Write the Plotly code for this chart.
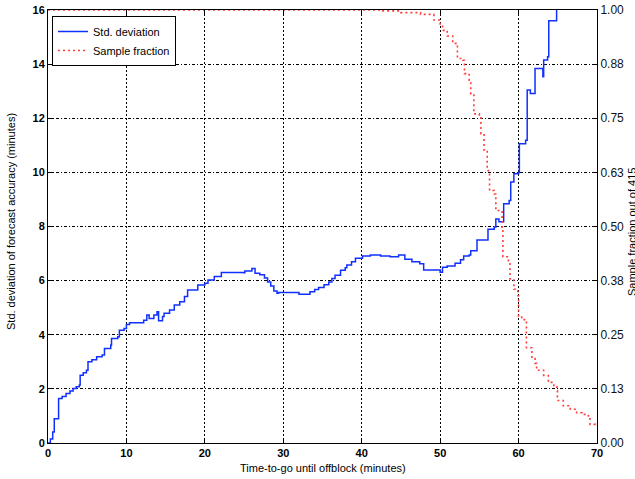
import plotly.graph_objects as go

# Std. deviation of forecast accuracy (minutes) vs time-to-go (minutes)
time_std = [0.0, 0.3, 0.6, 0.8, 1.35, 1.8, 2.3, 2.8, 3.2, 3.6, 4.0, 4.1, 4.5, 4.9, 5.1, 5.6,
            6.2, 6.9, 7.2, 8.0, 8.1, 8.9, 9.1, 9.7, 10.0, 10.4, 11.8, 12.2, 12.6, 12.9, 13.5,
            13.9, 14.1, 14.6, 14.8, 15.5, 16.1, 16.8, 17.4, 17.8, 18.5, 19.1, 20.0, 20.4, 21.2,
            22.1, 24.9, 25.1, 26.0, 26.4, 27.0, 27.6, 28.0, 28.4, 28.8, 29.2, 29.4, 31.5, 32.0,
            32.9, 33.4, 34.0, 34.5, 35.2, 35.8, 36.2, 36.6, 37.3, 37.9, 38.1, 38.7, 39.2, 40.1,
            41.1, 42.4, 43.6, 44.7, 45.5, 46.4, 47.4, 47.9, 49.6, 50.0, 50.3, 50.9, 51.9, 52.6,
            53.0, 53.7, 53.9, 54.7, 56.0, 56.1, 56.9, 57.1, 57.5, 58.1, 58.8, 59.0, 59.4, 60.0,
            60.1, 60.9, 61.1, 61.5, 62.1, 62.9, 63.1, 63.2, 63.7, 63.85, 64.85, 65.3]
std_dev = [0.0, 0.15, 0.41, 0.9, 1.64, 1.72, 1.83, 1.92, 2.01, 2.08, 2.14, 2.5, 2.6, 2.69, 3.0, 3.08,
           3.19, 3.25, 3.49, 3.62, 3.86, 3.93, 4.17, 4.23, 4.38, 4.44, 4.44, 4.54, 4.73, 4.6, 4.73,
           4.85, 4.52, 4.67, 4.79, 4.91, 5.1, 5.22, 5.41, 5.65, 5.65, 5.84, 5.9, 6.02, 6.15,
           6.3, 6.29, 6.36, 6.45, 6.27, 6.22, 6.1, 5.95, 5.8, 5.62, 5.53, 5.56, 5.56, 5.5,
           5.5, 5.59, 5.67, 5.75, 5.85, 5.95, 6.08, 6.2, 6.38, 6.48, 6.58, 6.7, 6.83, 6.91,
           6.95, 6.91, 6.88, 6.95, 6.79, 6.7, 6.62, 6.39, 6.39, 6.31, 6.49, 6.54, 6.64, 6.77,
           6.91, 6.95, 7.1, 7.5, 7.5, 7.9, 7.98, 8.28, 8.18, 8.84, 8.96, 9.64, 9.95, 10.0,
           11.06, 11.19, 13.04, 12.91, 13.84, 13.84, 13.53, 14.15, 14.27, 15.6, 16.5, 16.5]

# Sample fraction (out of 415) vs time-to-go (minutes)
time_frac = [0.0, 42.4, 45.0, 47.5, 49.2, 50.0, 50.3, 50.9, 51.6, 52.2, 52.9, 53.1, 53.7, 53.9,
             54.3, 55.0, 55.2, 55.6, 56.0, 56.3, 56.9, 57.1, 57.9, 58.0, 58.7, 58.9, 59.4, 59.9,
             60.0, 60.4, 60.9, 61.0, 61.7, 62.1, 62.3, 63.2, 63.8, 64.5, 64.9, 64.95, 65.7, 66.6,
             67.4, 68.1, 68.9, 69.1, 69.8, 70.0]
sample_frac = [1.0, 0.998, 0.994, 0.99, 0.977, 0.965, 0.953, 0.94, 0.923, 0.888, 0.884, 0.853, 0.838, 0.806,
               0.76, 0.753, 0.714, 0.676, 0.629, 0.583, 0.575, 0.537, 0.49, 0.43, 0.418, 0.379, 0.355, 0.34,
               0.293, 0.285, 0.281, 0.22, 0.195, 0.184, 0.168, 0.156, 0.14, 0.129, 0.121, 0.098, 0.086, 0.078,
               0.07, 0.066, 0.059, 0.043, 0.039, 0.039]

x_ticks = [0, 10, 20, 30, 40, 50, 60, 70]
left_ticks = [0, 2, 4, 6, 8, 10, 12, 14, 16]
right_tickvals = [0, 0.125, 0.25, 0.375, 0.5, 0.625, 0.75, 0.875, 1.0]
right_ticktext = ["0.00", "0.13", "0.25", "0.38", "0.50", "0.63", "0.75", "0.88", "1.00"]

x_title = "Time-to-go until offblock (minutes)"
left_title = "Std. deviation of forecast accuracy (minutes)"
right_title = "Sample fraction out of 415"

FONT = "Liberation Sans, Arial, Helvetica, sans-serif"
W, H = 635, 479
L, R, T, B = 48, 38, 10, 36
PW, PH = W - L - R, H - T - B

fig = go.Figure()
fig.add_trace(go.Scatter(
    x=time_std, y=std_dev, mode="lines", name="Std. deviation",
    line=dict(color="#1030ff", width=1.5, shape="hv"),
))
fig.add_trace(go.Scatter(
    x=time_frac, y=sample_frac, mode="lines", name="Sample fraction", yaxis="y2",
    line=dict(color="rgb(255,60,60)", width=1.6, dash="2px,3px", shape="hv"),
))

axis_common = dict(
    showline=True, linecolor="black", linewidth=1,
    ticks="inside", ticklen=5, tickcolor="black",
    zeroline=False, automargin=False,
)
bold_ticks = dict(size=11, color="black", weight="bold")
plain_ticks = dict(size=12, color="#111111")

def px_x(px):
    return (px - L) / PW

def px_y(py):
    return (H - B - py) / PH

fig.update_layout(
    width=W, height=H,
    margin=dict(l=L, r=R, t=T, b=B),
    paper_bgcolor="white", plot_bgcolor="white",
    font=dict(family=FONT, size=12, color="black"),
    showlegend=True,
    legend=dict(
        x=px_x(52), y=px_y(16), xanchor="left", yanchor="top",
        bgcolor="white", bordercolor="black", borderwidth=1,
        font=dict(size=11), itemwidth=30, tracegroupgap=0,
    ),
    xaxis=dict(
        range=[0, 70], tickvals=x_ticks, mirror="ticks",
        showgrid=True, gridcolor="black", gridwidth=1, griddash="2px,2px",
        tickfont=bold_ticks, **axis_common,
    ),
    yaxis=dict(
        range=[0, 16], tickvals=left_ticks, mirror="ticks",
        showgrid=True, gridcolor="black", gridwidth=1, griddash="3px,2px,1px,2px",
        tickfont=bold_ticks, **axis_common,
    ),
    yaxis2=dict(
        range=[0, 1], tickvals=right_tickvals, ticktext=right_ticktext,
        overlaying="y", side="right", showgrid=False,
        tickfont=plain_ticks, **axis_common,
    ),
    annotations=[
        dict(text=x_title, xref="paper", yref="paper", x=0.5, y=px_y(468),
             xanchor="center", yanchor="middle", showarrow=False, font=dict(size=11)),
        dict(text=left_title, xref="paper", yref="paper", x=px_x(11), y=px_y(222),
             xanchor="center", yanchor="middle", textangle=-90, showarrow=False, font=dict(size=11)),
        dict(text=right_title, xref="paper", yref="paper", x=px_x(632), y=px_y(232),
             xanchor="center", yanchor="middle", textangle=-90, showarrow=False, font=dict(size=11)),
    ],
)

fig.write_html(
    "out.html",
    config={"displayModeBar": False},
    post_script="document.body.style.margin='0px';document.body.style.padding='0px';",
)
